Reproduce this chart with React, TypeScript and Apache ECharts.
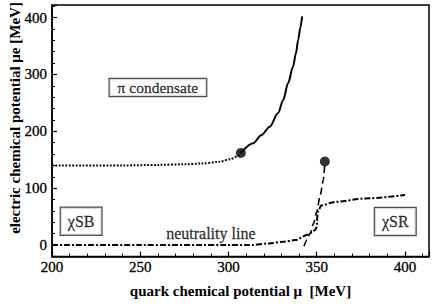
import React, { useEffect, useRef } from "react";
import * as echarts from "echarts";

// second-order pion condensation boundary (dotted)
const pionX = [200, 240, 260, 275, 285, 295, 301, 305, 307];
const pionY = [140, 140, 141, 142, 143.5, 146.5, 151, 156, 162];
// first-order boundary (solid)
const firstX = [307, 314, 318.5, 323.4, 328.1, 331, 333.8, 336.6, 338.2, 339.5, 340.7, 341.7];
const firstY = [162, 179, 193, 208, 232, 255, 285, 314, 337, 361, 382, 402];
// chiral first-order line (dashed)
const chiralX = [342.8, 344.5, 346.2, 348.2, 350, 352, 353.7, 354.6];
const chiralY = [-2, 9, 20.5, 38, 58.5, 88, 114, 147];
// neutrality line (dash-dot)
const neutralX = [200, 250, 300, 312, 323, 331, 337.7, 345.3, 349, 350, 350.5, 352.7, 360.3, 377.4, 400];
const neutralY = [0, 0, 0, 0, 3, 6, 8.8, 18.8, 26, 32, 58.5, 70, 76, 82, 88];
// critical end points
const critX = [307, 354.6];
const critY = [162, 147];
// region labels
const labelNames = ["π condensate", "χSB", "χSR", "neutrality line"];
const labelX = [260, 216.5, 394.5, 290];
const labelY = [277, 42, 41.5, 21];

const zip = (xs: number[], ys: number[]) => xs.map((x, i) => [x, ys[i]]);
const FONT = "Liberation Serif";

export default function App() {
  const ref = useRef<HTMLDivElement>(null);
  useEffect(() => {
    const chart = echarts.init(ref.current!, undefined, { renderer: "svg" });
    const txt = { fontFamily: FONT, color: "#000", textBorderColor: "#000", textBorderWidth: 0.3 };
    const boxed = (fs: number, pad: number[]) => ({
      show: true,
      position: "inside",
      formatter: "{b}",
      ...txt,
      fontSize: fs,
      backgroundColor: "#fff",
      borderColor: "#222",
      borderWidth: 1.2,
      padding: pad,
    });
    const labelStyles = [
      boxed(15.5, [1, 8, 0, 8]),
      boxed(16, [6, 7, 5, 7]),
      boxed(16, [6, 7, 5, 7]),
      { show: true, position: "inside", formatter: "{b}", ...txt, fontSize: 16 },
    ];
    chart.setOption({
      animation: false,
      backgroundColor: "#fff",
      textStyle: { fontFamily: FONT },
      grid: {
        left: 52,
        right: 7,
        top: 5,
        bottom: 51.5,
        show: true,
        borderColor: "#000",
        borderWidth: 1.5,
      },
      xAxis: {
        type: "value",
        min: 200,
        max: 413.6,
        interval: 50,
        name: "quark chemical potential μ  [MeV]",
        nameLocation: "middle",
        nameGap: 27,
        nameTextStyle: { fontFamily: FONT, fontWeight: "bold", fontSize: 15, color: "#000" },
        axisLine: { onZero: false, lineStyle: { color: "#000", width: 1.5 } },
        axisTick: { inside: true, length: 5, lineStyle: { color: "#000", width: 1.2 } },
        minorTick: { show: true, splitNumber: 5, length: 3, lineStyle: { color: "#000", width: 1 } },
        splitLine: { show: false },
        axisLabel: {
          ...txt,
          fontSize: 15,
          margin: 3,
          formatter: (v: number) => (Math.abs(v % 50) < 1e-6 ? String(v) : ""),
        },
      },
      yAxis: {
        type: "value",
        min: -20,
        max: 422,
        splitNumber: 5,
        axisLine: { onZero: false, lineStyle: { color: "#000", width: 1.5 } },
        axisTick: { inside: true, length: 5, lineStyle: { color: "#000", width: 1.2 } },
        minorTick: { show: true, splitNumber: 5, length: 3, lineStyle: { color: "#000", width: 1 } },
        splitLine: { show: false },
        axisLabel: {
          ...txt,
          fontSize: 15,
          margin: 5,
          formatter: (v: number) => (Math.abs(v % 100) < 1e-6 ? String(v) : ""),
        },
      },
      graphic: [
        {
          type: "text",
          x: 15,
          y: 118,
          rotation: Math.PI / 2,
          style: {
            text: "electric chemical potential μe [MeV]",
            fontFamily: FONT,
            fontWeight: "bold",
            fontSize: 15,
            fill: "#000",
            align: "center",
            verticalAlign: "middle",
          },
        },
      ],
      series: [
        {
          type: "line",
          data: zip(pionX, pionY),
          showSymbol: false,
          smooth: 0.3,
          smoothMonotone: "x",
          lineStyle: { color: "#000", width: 2, type: [1.8, 1.6] },
        },
        {
          type: "line",
          data: zip(firstX, firstY),
          showSymbol: false,
          smooth: 0.3,
          smoothMonotone: "x",
          lineStyle: { color: "#000", width: 2, type: "solid" },
        },
        {
          type: "line",
          data: zip(chiralX, chiralY),
          showSymbol: false,
          smooth: 0.3,
          smoothMonotone: "x",
          lineStyle: { color: "#000", width: 1.6, type: [7, 4] },
        },
        {
          type: "line",
          data: zip(neutralX, neutralY),
          showSymbol: false,
          smooth: 0.3,
          smoothMonotone: "x",
          lineStyle: { color: "#000", width: 2, type: [6, 2, 2, 2] },
        },
        {
          type: "scatter",
          data: zip(critX, critY),
          symbol: "circle",
          symbolSize: 10,
          itemStyle: { color: "#000" },
          z: 5,
        },
        {
          type: "scatter",
          symbolSize: 1,
          itemStyle: { color: "rgba(0,0,0,0)" },
          z: 6,
          data: labelNames.map((n, i) => ({
            name: n,
            value: [labelX[i], labelY[i]],
            label: labelStyles[i],
          })),
        },
      ],
    });
    return () => chart.dispose();
  }, []);
  return <div ref={ref} style={{ width: 436, height: 308, position: "absolute", left: 0, top: 0 }} />;
}
